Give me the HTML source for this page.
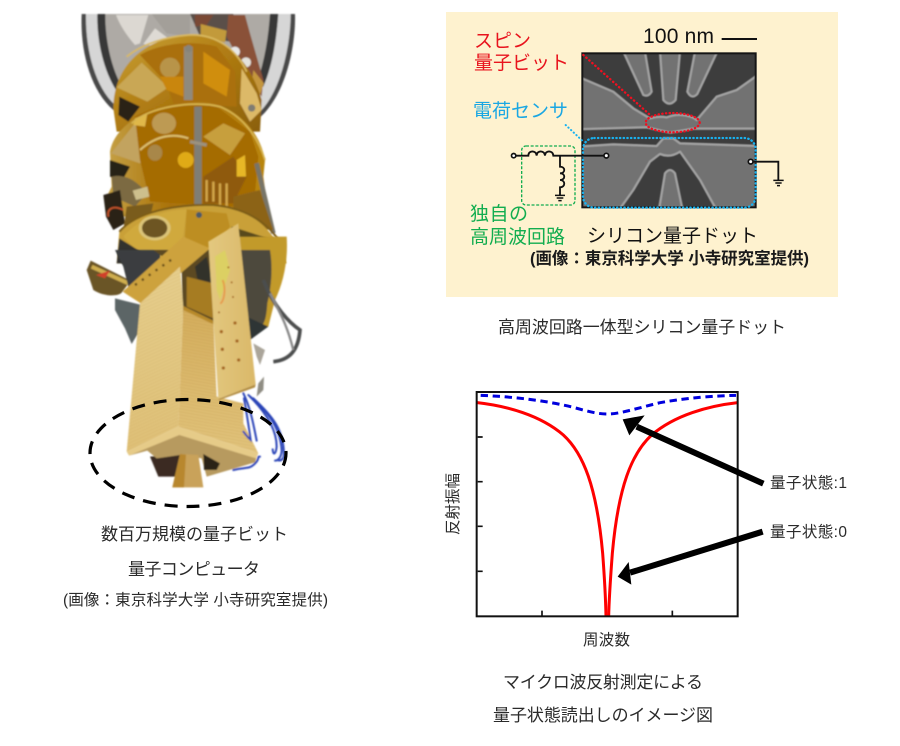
<!DOCTYPE html>
<html lang="ja"><head><meta charset="utf-8"><title>量子コンピュータ</title>
<style>html,body{margin:0;padding:0;background:#fff}svg{display:block}
text{font-family:"Liberation Sans","Noto Sans CJK JP",sans-serif}</style></head>
<body>
<svg width="900" height="746" viewBox="0 0 900 746" xmlns="http://www.w3.org/2000/svg">
<defs>
<filter id="b1" x="-5%" y="-5%" width="110%" height="110%"><feGaussianBlur stdDeviation="2.2"/></filter>
<filter id="bs" x="-5%" y="-5%" width="110%" height="110%"><feGaussianBlur stdDeviation="1.8"/></filter>
<clipPath id="semc"><rect x="6" y="9" width="522" height="464"/></clipPath>
<linearGradient id="g1" x1="0" x2="1" y1="0" y2="1"><stop offset="0" stop-color="#c9a33a"/><stop offset=".45" stop-color="#b17d12"/><stop offset="1" stop-color="#8a5f0c"/></linearGradient>
<linearGradient id="g2" x1="0" x2="1" y1="0" y2="0"><stop offset="0" stop-color="#c6a247"/><stop offset=".4" stop-color="#a97208"/><stop offset="1" stop-color="#b9860f"/></linearGradient>
<linearGradient id="faceL" x1="0" x2="0" y1="0" y2="1"><stop offset="0" stop-color="#e6cf8e"/><stop offset="1" stop-color="#dfc077"/></linearGradient>
<linearGradient id="faceR" x1="0" x2="0" y1="0" y2="1"><stop offset="0" stop-color="#d4ad5c"/><stop offset="1" stop-color="#e2c47c"/></linearGradient>
<linearGradient id="strip" x1="0" x2="1" y1="0" y2="0"><stop offset="0" stop-color="#e3c87f"/><stop offset="1" stop-color="#dab869"/></linearGradient>
<pattern id="ridge" width="10" height="9" patternUnits="userSpaceOnUse" patternTransform="rotate(-24)"><rect width="10" height="3" fill="#b98f3d" opacity=".14"/></pattern>
<pattern id="ridge2" width="10" height="9" patternUnits="userSpaceOnUse" patternTransform="rotate(10)"><rect width="10" height="3" fill="#a87f30" opacity=".16"/></pattern>
</defs>
<rect width="900" height="746" fill="#fff"/>

<!-- cryostat upper part -->
<g transform="translate(60,0) scale(.33333)" filter="url(#b1)">
<path d="M65 42H705C708 130 680 280 600 352L160 330C90 270 60 150 65 42Z" fill="#4a4a4a"/>
<path d="M78 42H692C692 130 665 270 600 335L165 315C105 260 76 150 78 42Z" fill="#d6d6d6"/>
<path d="M112 42H655C650 110 640 190 610 260L168 270C130 210 110 120 112 42Z" fill="#383838"/>
<path d="M136 42H630C625 110 615 180 590 250L180 250C150 190 135 110 136 42Z" fill="#aeaaa5"/>
<path d="M168 45H265L240 130 225 135C195 100 180 75 168 45Z" fill="#dcd8d2"/>
<path d="M250 132L285 85 325 115 290 140Z" fill="#dedad4"/>
<path d="M275 42H390V110L320 100Z" fill="#a39f99"/>
<path d="M390 42H520L540 130 420 110Z" fill="#5a5049"/>
<path d="M405 45H460L440 75 405 80Z" fill="#7a4a35"/>
<path d="M505 45H555L570 100 610 240 605 290 545 195 500 110Z" fill="#8a5138"/>
<path d="M422 72L500 92 495 128 422 105Z" fill="#c29a3a"/>
<circle cx="525" cy="155" r="15" fill="#e8e8e8"/><circle cx="558" cy="187" r="15" fill="#e4e2dc"/>
<path d="M580 210L612 250 600 285 575 250Z" fill="#c4963c"/>

<path d="M160 325C160 210 240 115 385 105 490 100 570 180 605 300L600 395 170 395Z" fill="url(#g1)"/>
<path d="M170 262L245 188 325 262 262 305Z" fill="#c9a755"/>
<path d="M240 165C300 130 400 120 470 140L525 215 530 320 340 310 320 250Z" fill="#aa7007"/>
<ellipse cx="330" cy="203" rx="30" ry="30" fill="#b8944a"/>
<path d="M430 155L510 210 500 290 430 250Z" fill="#d08e0e"/>
<path d="M300 230L370 230 370 290 320 270Z" fill="#c9860c"/>
<path d="M545 205L590 280 605 330 570 365 540 310Z" fill="#dcb968"/>
<path d="M178 290L240 320 205 365 175 345Z" fill="#2b2418"/>
<path d="M200 170C250 130 320 110 385 105 470 100 530 150 560 215" fill="none" stroke="#d9b95f" stroke-width="5"/>
<rect x="372" y="140" width="26" height="160" fill="#8f8a7d"/>
<circle cx="386" cy="146" r="11" fill="#87847a"/>
<circle cx="575" cy="324" r="11" fill="#7f7c72"/>

<path d="M150 455C160 390 240 315 410 305 520 305 600 390 615 480L610 530 625 640 180 650 135 600 155 560Z" fill="url(#g2)"/>
<path d="M153 460L225 370 275 432 240 490Z" fill="#c2a35e"/>
<path d="M225 350C290 315 390 305 470 320L570 395 595 470 585 580 520 620 270 605 240 480Z" fill="#a56c06"/>
<path d="M225 355L262 340 255 380 220 375Z" fill="#e0b84a"/>
<ellipse cx="312" cy="370" rx="36" ry="32" fill="#bd9a52"/>
<path d="M430 410L490 370 555 400 510 465Z" fill="#c79f3c"/>
<ellipse cx="377" cy="480" rx="24" ry="24" fill="#e0aa12"/>
<ellipse cx="285" cy="458" rx="22" ry="24" fill="#a88748"/>
<path d="M430 530L520 470 560 530 520 610 430 610Z" fill="#8f5a08"/>
<path d="M530 480L555 465 558 530 530 530Z" fill="#e7b726"/>
<path d="M440 540V605M460 545V605M480 550V615M500 550V620" stroke="#d3a74a" stroke-width="7"/>
<path d="M240 450C290 405 340 400 385 415" fill="none" stroke="#dcc06f" stroke-width="6"/>
<path d="M215 370C270 320 400 300 480 320 540 345 590 400 615 480" fill="none" stroke="#d8b650" stroke-width="5"/>
<rect x="403" y="320" width="22" height="295" fill="#7f7e74"/>
<path d="M390 425L440 435" stroke="#9b927e" stroke-width="10"/>
<path d="M590 490L640 700" stroke="#777568" stroke-width="14"/>
<path d="M150 480L210 500 185 545 150 530Z" fill="#282016"/>
<path d="M155 530C190 520 230 540 260 580L225 620 160 590Z" fill="#7b6a42"/>
<path d="M218 572L262 560 268 590 228 600Z" fill="#cdbf8d"/>
<path d="M130 585L180 570 195 670 160 690 138 650Z" fill="#2a2118"/>
<path d="M145 650C140 625 160 615 190 630" fill="none" stroke="#c8552a" stroke-width="5"/>
<path d="M200 620L280 610 260 700 190 690Z" fill="#7a5b1d"/>
<path d="M520 590L600 570 640 690 520 680Z" fill="#8c6416"/>

<path d="M170 790L178 695C240 625 380 612 460 615 570 625 640 680 680 790Z" fill="#c9a037"/>
<path d="M178 695C240 625 380 612 460 615 570 625 640 680 672 750" fill="none" stroke="#7b5c18" stroke-width="6"/>
<path d="M190 710C240 650 320 630 380 628L360 780 240 760Z" fill="#d0a93c"/>
<path d="M380 628L500 640 510 680 440 780 370 780Z" fill="#bd8e22"/>
<ellipse cx="284" cy="684" rx="48" ry="37" fill="#dcc477"/><ellipse cx="284" cy="684" rx="38" ry="29" fill="#6d5524"/>
<path d="M170 790L178 715 250 760 240 790Z" fill="#30302f"/>
<path d="M515 680L640 720 670 790H510Z" fill="#59491f"/>
<circle cx="417" cy="645" r="9" fill="#4b5a66"/>
</g>

<!-- lower column -->
<g transform="translate(60,250) scale(.33333)" filter="url(#b1)">
<path d="M680 -40C685 30 670 100 645 150L625 230 570 235 530 0 540 -40Z" fill="#c29a2a"/>
<path d="M530 0H630C640 60 632 120 622 160 618 220 610 240 570 235L550 200Z" fill="#4e4a3c"/>
<path d="M80 60L92 32 212 92 185 128C175 140 130 140 100 120Z" fill="#6a5528"/>
<path d="M95 50L205 100" stroke="#cfae50" stroke-width="12"/>
<path d="M108 75L150 62 135 85Z" fill="#d0402a"/>
<path d="M165 145L245 165 240 240 215 282 195 235 165 180Z" fill="#5c6566"/>
<path d="M165 0H300V40L210 130 190 50Z" fill="#3a3d3f"/>
<path d="M280 0H460V250H370L365 60Z" fill="#5b4820"/>
<path d="M405 50L440 20 460 110 420 130Z" fill="#333029"/>
<path d="M380 80L460 100 460 205 380 170Z" fill="#a67b23"/>
<path d="M560 200L625 230 570 270 565 260Z" fill="#2e3436"/>
<path d="M610 90C640 170 690 220 720 240 715 300 690 330 640 335" fill="none" stroke="#4c4d4d" stroke-width="11"/>
<path d="M630 130C660 190 680 220 700 300" fill="none" stroke="#888" stroke-width="7"/>
<path d="M580 280L615 300 600 345 590 320Z" fill="#aaa59a"/>
<path d="M595 400L612 380 610 420 590 440Z" fill="#8f8d83"/>
<path d="M188 125L370 -40 450 -5 250 165Z" fill="#cda23e"/>
<path d="M225 105L340 25" stroke="#5e4717" stroke-width="7" stroke-dasharray="7 18"/>
<path d="M200 605L240 160 360 50 370 170 355 530Z" fill="url(#faceL)"/>
<path d="M200 605L240 160 360 50 370 170 355 530Z" fill="url(#ridge)"/>
<path d="M355 530L370 170 460 215 470 440 550 460 550 520 595 610Z" fill="url(#faceR)"/>
<path d="M355 530L370 170 460 215 470 440 550 460 550 520 595 610Z" fill="url(#ridge2)"/>
<path d="M370 168L460 212 458 222 370 180Z" fill="#b88a2a"/>
<path d="M445 -25L535 -80 587 403 475 447Z" fill="url(#strip)"/>
<path d="M475 447L587 403 585 412 478 450Z" fill="#b18b3f"/>
<path d="M465 20L495 0 510 60 480 150 470 120Z" fill="#dcd064"/>
<path d="M488 90C500 120 490 160 480 160" fill="none" stroke="#e88b3c" stroke-width="6" opacity=".7"/>
<g fill="#a5651e"><circle cx="490" cy="354" r="5"/><circle cx="536" cy="330" r="5"/><circle cx="487" cy="298" r="5"/><circle cx="531" cy="273" r="5"/><circle cx="484" cy="245" r="5"/><circle cx="525" cy="219" r="5"/><circle cx="477" cy="187" r="3"/><circle cx="519" cy="141" r="3"/><circle cx="515" cy="97" r="3"/><circle cx="505" cy="52" r="3"/></g>
<path d="M270 620L360 612 360 680 295 680Z" fill="#3b2a22"/>
<path d="M207 617L358 550 590 622 585 637 440 680 425 625 360 615 290 625 262 602Z" fill="#b79a5e"/>
<path d="M430 612L480 640 470 660 432 660Z" fill="#2a2118"/>
<path d="M200 605L355 530 595 610 588 625 358 555 207 617Z" fill="#e6cb88"/>
<path d="M360 612L415 615 430 712H337Z" fill="#c9a25a"/>
<path d="M360 612L378 614 372 712H337Z" fill="#b8872f"/>
<g fill="none" stroke="#2c45b8" stroke-width="6" stroke-linecap="round">
<path d="M550 430C570 470 580 520 590 572"/>
<path d="M552 445C560 490 565 520 572 570 560 560 555 550 550 545"/>
<path d="M565 435C620 480 660 530 665 600 665 620 655 632 645 632"/>
<path d="M570 440C620 490 650 540 650 590 648 610 640 620 638 598"/>
<path d="M580 445C640 500 670 540 672 612 672 630 660 634 652 630"/>
<path d="M520 660C560 650 570 660 590 635 600 620 590 620 600 620"/>
</g>
</g>
<ellipse cx="188" cy="453" rx="98" ry="53.5" fill="none" stroke="#000" stroke-width="3.2" stroke-dasharray="13 9"/>

<g fill="#2a2a2a">
<text x="101" y="540" font-size="17" textLength="187">数百万規模の量子ビット</text>
<text x="128" y="575" font-size="17" textLength="132">量子コンピュータ</text>
<text x="63" y="605" font-size="15.5" textLength="265">(画像：東京科学大学 小寺研究室提供)</text>
<text x="498" y="333" font-size="17" textLength="288">高周波回路一体型シリコン量子ドット</text>
<text x="503" y="688" font-size="17" textLength="200">マイクロ波反射測定による</text>
<text x="493" y="721" font-size="17" textLength="220">量子状態読出しのイメージ図</text>
</g>

<!-- panel -->
<rect x="446" y="12" width="392" height="285" fill="#fef2cf"/>
<!-- SEM image -->
<g transform="translate(580,50) scale(.33333)">
<rect x="6" y="9" width="522" height="464" fill="#3d3d3d"/>
<g clip-path="url(#semc)"><g filter="url(#bs)" fill="#727272" stroke="#a0a0a0" stroke-width="7" stroke-linejoin="round">
<path d="M130 5H195L215 125Q205 142 190 135Z"/>
<path d="M240 5H300L287 150Q268 172 250 150Z"/>
<path d="M345 5H412L352 132Q335 150 322 125Z"/>
<path d="M-10 78L100 125 160 175 210 205Q235 197 260 202 290 190 320 197 340 200 350 210L410 140 470 120 540 70V236H340L270 248 200 232-10 238Z"/>
<path d="M-10 290L100 283 230 288 250 265H280L300 280 540 288V490H415L360 390 300 305Q270 325 240 312L210 335 160 420 110 490H-10Z"/>
<path d="M235 490L255 370Q270 350 285 370L310 490Z"/>
</g></g>
<rect x="7" y="10" width="520" height="462" fill="none" stroke="#151515" stroke-width="6"/>
</g>
<g transform="translate(445,10) scale(.33333)">
<g fill="none" stroke-linecap="round">
<path d="M415 135L612 312" stroke="#ee1020" stroke-width="7" stroke-dasharray="1 11"/>
<ellipse cx="683" cy="338" rx="81" ry="29" stroke="#ee1020" stroke-width="7" stroke-dasharray="1 10"/>
<rect x="414" y="384" width="518" height="209" rx="34" stroke="#18b2f0" stroke-width="7" stroke-dasharray="1 10"/>
<path d="M362 345L412 392" stroke="#18b2f0" stroke-width="6" stroke-dasharray="1 10"/>
</g>
<rect x="230" y="408" width="160" height="177" rx="13" fill="none" stroke="#12ad4f" stroke-width="4" stroke-dasharray="9 5"/>
<g fill="none" stroke="#111" stroke-width="5.5">
<path d="M212 437H250C250 420 274 420 275 437 275 420 299 420 300 437 300 420 324 420 325 437H478"/>
<path d="M345 437V470C362 470 362 490 345 490 362 490 362 510 345 510 362 510 362 532 345 532V555"/>
<path d="M922 455H1000V510"/>
</g>
<g stroke="#111" stroke-width="4.5"><path d="M330 556H360M335 564H355M340 572H350M985 511H1016M991 519H1010M996 527H1005"/></g>
<g fill="#fff" stroke="#111" stroke-width="5"><circle cx="206" cy="437" r="6.5"/><circle cx="484" cy="437" r="7"/><circle cx="917" cy="455" r="7"/></g>
<rect x="830" y="84" width="106" height="6" fill="#111"/>
</g>
<text x="643" y="43" font-size="21" fill="#111" textLength="71">100 nm</text>
<g font-size="19">
<text x="474" y="47" fill="#e8141e" textLength="57">スピン</text>
<text x="474" y="69" fill="#e8141e" textLength="95">量子ビット</text>
<text x="473" y="117" fill="#1aa7e3" textLength="95">電荷センサ</text>
<text x="470" y="220" fill="#12ad4f" textLength="58">独自の</text>
<text x="470" y="243" fill="#12ad4f" textLength="95">高周波回路</text>
<text x="587" y="242" fill="#111" textLength="171">シリコン量子ドット</text>
</g>
<text x="530" y="264" font-size="16.5" font-weight="700" fill="#1a1a1a" textLength="279">(画像：東京科学大学 小寺研究室提供)</text>

<!-- plot -->
<g transform="translate(440,380) scale(.33333)">
<path d="M112 68C200 78 300 105 370 165 430 220 470 320 488 520 494 600 497 660 498 710" fill="none" stroke="#f00" stroke-width="9"/>
<path d="M893 68C805 78 705 105 635 165 575 220 535 320 517 520 511 600 507 660 506 710" fill="none" stroke="#f00" stroke-width="9"/>
<path d="M122 46C220 50 320 62 400 82 450 96 475 102 502 102 540 102 590 85 660 68 750 52 820 48 888 46" fill="none" stroke="#00d" stroke-width="9" stroke-dasharray="22 14"/>
<rect x="110" y="36" width="783" height="673" fill="none" stroke="#111" stroke-width="6"/>
<path d="M113 171H128M113 305H128M113 439H128M113 574H128M306 707V692M697 707V692" stroke="#111" stroke-width="5"/>
<path d="M970 311L590 140" stroke="#000" stroke-width="18"/>
<path d="M548 118L614 106 568 166Z" fill="#000"/>
<path d="M968 455L570 578" stroke="#000" stroke-width="18"/>
<path d="M533 590L566 546 574 614Z" fill="#000"/>
</g>
<g fill="#2a2a2a" font-size="15.5">
<text x="770" y="488" textLength="77">量子状態:1</text>
<text x="770" y="537" textLength="77">量子状態:0</text>
<text x="583" y="645" textLength="47">周波数</text>
<text transform="translate(458,535) rotate(-90)" textLength="62">反射振幅</text>
</g>
</svg>
</body></html>
